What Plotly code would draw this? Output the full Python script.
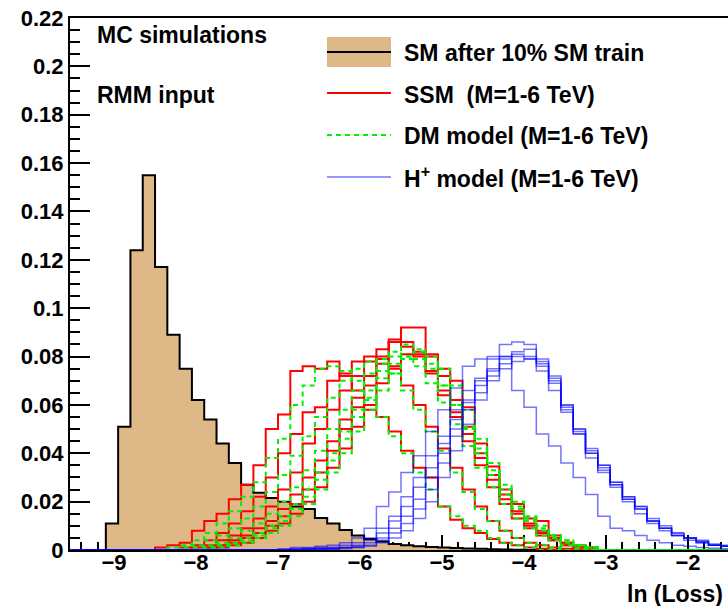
import numpy as np
import plotly.graph_objects as go

# ---------------------------------------------------------------- binning
BIN_WIDTH = 0.15
X_MIN, X_MAX = -9.537, -1.512
Y_MAX = 0.22

# ---------------------------------------------------------------- data
# SM background after 10% SM training (low edge of first bin, bin contents)
sm_first_edge = -9.10
sm_counts = [0.011, 0.051, 0.124, 0.155, 0.117, 0.089, 0.075, 0.062, 0.054,
             0.044, 0.036, 0.027, 0.0237, 0.0215, 0.020, 0.018, 0.017, 0.0132,
             0.011, 0.0083, 0.006, 0.0045, 0.0035, 0.0025, 0.002, 0.0015,
             0.0012, 0.001, 0.0008, 0.0006, 0.0005, 0.0003, 0.0002, 0.0001]

# SSM, M = 1..6 TeV
ssm_first_edges = [-8.50, -8.20, -8.05, -7.90, -7.75, -7.90]
ssm_m1 = [0.001, 0.002, 0.003, 0.008, 0.012, 0.015, 0.021, 0.027, 0.035, 0.050,
          0.056, 0.074, 0.076, 0.075, 0.078, 0.072, 0.066, 0.058, 0.055, 0.049,
          0.041, 0.034, 0.030, 0.018, 0.0125, 0.009, 0.007, 0.0045, 0.003,
          0.002, 0.001, 0.0005]
ssm_m2 = [0.001, 0.002, 0.004, 0.007, 0.011, 0.016, 0.022, 0.030, 0.040, 0.048,
          0.057, 0.059, 0.070, 0.073, 0.078, 0.080, 0.079, 0.075, 0.068, 0.060,
          0.051, 0.042, 0.034, 0.025, 0.018, 0.012, 0.008, 0.005, 0.003, 0.002,
          0.001, 0.0005]
ssm_m3 = [0.001, 0.002, 0.004, 0.006, 0.009, 0.013, 0.018, 0.025, 0.032, 0.044,
          0.050, 0.058, 0.066, 0.072, 0.078, 0.083, 0.086, 0.084, 0.080, 0.073,
          0.064, 0.055, 0.045, 0.035, 0.026, 0.019, 0.013, 0.009, 0.006, 0.004,
          0.002, 0.001, 0.0005]
ssm_m4 = [0.001, 0.002, 0.004, 0.006, 0.009, 0.012, 0.017, 0.023, 0.030, 0.037,
          0.045, 0.054, 0.063, 0.072, 0.080, 0.086, 0.092, 0.092, 0.081, 0.072,
          0.062, 0.051, 0.040, 0.031, 0.023, 0.016, 0.011, 0.008, 0.005, 0.003,
          0.002, 0.001]
ssm_m5 = [0.001, 0.002, 0.003, 0.005, 0.008, 0.011, 0.015, 0.020, 0.026, 0.034,
          0.042, 0.051, 0.060, 0.069, 0.076, 0.081, 0.082, 0.080, 0.075, 0.070,
          0.059, 0.044, 0.0345, 0.025, 0.019, 0.013, 0.012, 0.006, 0.003,
          0.0015, 0.001]
ssm_m6 = [0.001, 0.002, 0.003, 0.005, 0.007, 0.010, 0.014, 0.019, 0.025, 0.032,
          0.041, 0.050, 0.059, 0.068, 0.077, 0.087, 0.086, 0.081, 0.074, 0.066,
          0.057, 0.048, 0.038, 0.029, 0.021, 0.015, 0.010, 0.007, 0.004, 0.002,
          0.001]

# DM model, M = 1..6 TeV
dm_first_edges = [-8.35, -8.20, -8.05, -7.90, -7.75, -7.90]
dm_m1 = [0.001, 0.002, 0.004, 0.007, 0.011, 0.016, 0.022, 0.028, 0.038, 0.046,
         0.060, 0.068, 0.075, 0.076, 0.074, 0.070, 0.062, 0.055, 0.047, 0.040,
         0.032, 0.025, 0.018, 0.014, 0.010, 0.008, 0.005, 0.003, 0.002, 0.001]
dm_m2 = [0.001, 0.002, 0.004, 0.006, 0.009, 0.013, 0.018, 0.024, 0.031, 0.039,
         0.047, 0.055, 0.063, 0.070, 0.075, 0.078, 0.077, 0.073, 0.066, 0.058,
         0.049, 0.041, 0.032, 0.024, 0.017, 0.012, 0.008, 0.005, 0.003, 0.002,
         0.001]
dm_m3 = [0.001, 0.002, 0.003, 0.005, 0.008, 0.011, 0.015, 0.020, 0.026, 0.033,
         0.041, 0.050, 0.058, 0.066, 0.073, 0.079, 0.082, 0.080, 0.076, 0.069,
         0.061, 0.052, 0.043, 0.034, 0.026, 0.019, 0.013, 0.009, 0.006, 0.004,
         0.002, 0.001]
dm_m4 = [0.001, 0.002, 0.003, 0.005, 0.007, 0.010, 0.014, 0.019, 0.025, 0.032,
         0.040, 0.049, 0.058, 0.066, 0.074, 0.080, 0.085, 0.083, 0.077, 0.068,
         0.060, 0.050, 0.040, 0.031, 0.023, 0.017, 0.012, 0.008, 0.005, 0.003,
         0.002, 0.001]
dm_m5 = [0.001, 0.002, 0.003, 0.005, 0.007, 0.010, 0.014, 0.019, 0.025, 0.032,
         0.040, 0.049, 0.058, 0.066, 0.073, 0.079, 0.082, 0.080, 0.075, 0.068,
         0.058, 0.046, 0.036, 0.027, 0.020, 0.014, 0.010, 0.006, 0.004, 0.002,
         0.001]
dm_m6 = [0.001, 0.002, 0.003, 0.004, 0.006, 0.009, 0.012, 0.017, 0.022, 0.029,
         0.037, 0.046, 0.055, 0.063, 0.071, 0.077, 0.080, 0.079, 0.075, 0.068,
         0.060, 0.051, 0.042, 0.033, 0.025, 0.018, 0.013, 0.009, 0.006, 0.004,
         0.002, 0.001]

# H+ model, M = 1..6 TeV
hp_first_edges = [-7.00, -6.85, -6.85, -6.70, -6.70, -6.55]
hp_m1 = [0.0005, 0.001, 0.001, 0.0015, 0.002, 0.003, 0.005, 0.009, 0.018, 0.024,
         0.032, 0.039, 0.049, 0.058, 0.067, 0.076, 0.079, 0.080, 0.080, 0.066,
         0.059, 0.048, 0.043, 0.036, 0.030, 0.023, 0.014, 0.009, 0.008, 0.006,
         0.004, 0.003, 0.002, 0.0015, 0.001, 0.0007, 0.0005, 0.0003]
hp_m2 = [0.0005, 0.0007, 0.001, 0.001, 0.002, 0.003, 0.005, 0.009, 0.014, 0.022,
         0.030, 0.039, 0.047, 0.058, 0.066, 0.071, 0.075, 0.080, 0.081, 0.079,
         0.074, 0.066, 0.057, 0.048, 0.040, 0.032, 0.026, 0.020, 0.015, 0.011,
         0.008, 0.006, 0.004, 0.003, 0.002, 0.0015, 0.001]
hp_m3 = [0.0003, 0.0005, 0.0007, 0.001, 0.001, 0.002, 0.004, 0.007, 0.012, 0.018,
         0.026, 0.034, 0.044, 0.054, 0.062, 0.070, 0.079, 0.085, 0.086, 0.085,
         0.079, 0.072, 0.060, 0.050, 0.038, 0.035, 0.028, 0.021, 0.018, 0.012,
         0.009, 0.006, 0.005, 0.0035, 0.002, 0.0015, 0.001]
hp_m4 = [0.0003, 0.0005, 0.0005, 0.001, 0.0015, 0.003, 0.005, 0.009, 0.014,
         0.021, 0.030, 0.040, 0.050, 0.061, 0.068, 0.074, 0.079, 0.082, 0.083,
         0.078, 0.070, 0.059, 0.049, 0.041, 0.034, 0.027, 0.022, 0.017, 0.012,
         0.009, 0.007, 0.005, 0.004, 0.0025, 0.002, 0.001]
hp_m5 = [0.0002, 0.0003, 0.0005, 0.001, 0.001, 0.002, 0.004, 0.007, 0.011,
         0.017, 0.025, 0.036, 0.047, 0.058, 0.065, 0.072, 0.077, 0.080, 0.080,
         0.077, 0.071, 0.060, 0.050, 0.042, 0.035, 0.028, 0.021, 0.018, 0.013,
         0.009, 0.007, 0.005, 0.0035, 0.002, 0.0015, 0.001]
hp_m6 = [0.0002, 0.0003, 0.0005, 0.001, 0.0015, 0.003, 0.005, 0.008, 0.013,
         0.020, 0.030, 0.041, 0.052, 0.062, 0.070, 0.075, 0.078, 0.079, 0.076,
         0.069, 0.058, 0.048, 0.040, 0.033, 0.027, 0.022, 0.017, 0.012, 0.010,
         0.006, 0.005, 0.003, 0.002, 0.0015, 0.001]

# axis ticks
x_tick_vals = [-9, -8, -7, -6, -5, -4, -3, -2]
x_tick_text = ["\u22129", "\u22128", "\u22127", "\u22126", "\u22125", "\u22124", "\u22123", "\u22122"]
y_tick_vals = [0, 0.02, 0.04, 0.06, 0.08, 0.10, 0.12, 0.14, 0.16, 0.18, 0.20, 0.22]
y_tick_text = ["0", "0.02", "0.04", "0.06", "0.08", "0.1", "0.12", "0.14", "0.16", "0.18", "0.2", "0.22"]

# ---------------------------------------------------------------- styles
FONT = "Liberation Sans"
TAN = "#DEB887"
RED = "#FF0000"
GREEN = "#00F000"
BLUE = "rgba(0,0,255,0.55)"

L_MARGIN, T_MARGIN, B_MARGIN = 70, 18, 56
W, H = 728, 606
PLOT_W = W - L_MARGIN
PLOT_H = H - T_MARGIN - B_MARGIN


def px(xp):
    return (xp - L_MARGIN) / PLOT_W


def py(yp):
    return (H - B_MARGIN - yp) / PLOT_H


def step_xy(first_edge, counts):
    """Outline of a histogram, running along the baseline outside its bins."""
    n = len(counts)
    edges = first_edge + BIN_WIDTH * np.arange(n + 1)
    x = np.concatenate([[X_MIN - 1.0], edges, [X_MAX + 1.0]])
    y = np.concatenate([[0.0], counts, [0.0, 0.0]])
    return x, y


fig = go.Figure()

# SM background, filled
sx, sy = step_xy(sm_first_edge, sm_counts)
fig.add_trace(go.Scatter(x=sx, y=sy, mode="lines", line=dict(color="black", width=2, shape="hv"),
                         fill="tozeroy", fillcolor=TAN, hoverinfo="skip"))

for first, counts in zip(ssm_first_edges, [ssm_m1, ssm_m2, ssm_m3, ssm_m4, ssm_m5, ssm_m6]):
    x, y = step_xy(first, counts)
    fig.add_trace(go.Scatter(x=x, y=y, mode="lines", line=dict(color=RED, width=2, shape="hv"),
                             hoverinfo="skip"))

for first, counts in zip(dm_first_edges, [dm_m1, dm_m2, dm_m3, dm_m4, dm_m5, dm_m6]):
    x, y = step_xy(first, counts)
    fig.add_trace(go.Scatter(x=x, y=y, mode="lines",
                             line=dict(color=GREEN, width=2, shape="hv", dash="5px,4px"),
                             hoverinfo="skip"))

for first, counts in zip(hp_first_edges, [hp_m1, hp_m2, hp_m3, hp_m4, hp_m5, hp_m6]):
    x, y = step_xy(first, counts)
    fig.add_trace(go.Scatter(x=x, y=y, mode="lines", line=dict(color=BLUE, width=1.5, shape="hv"),
                             hoverinfo="skip"))

tick_font = dict(family=FONT, size=22, color="black", weight="bold")

fig.update_xaxes(range=[X_MIN, X_MAX], showgrid=False, zeroline=False,
                 showline=True, linecolor="black", linewidth=2, mirror=True,
                 ticks="inside", ticklen=15, tickwidth=1.5, tickcolor="black",
                 tickvals=x_tick_vals, ticktext=x_tick_text, tickfont=tick_font,
                 ticklabelstandoff=-8,
                 minor=dict(ticks="inside", ticklen=8, tickwidth=1.5, tickcolor="black", dtick=0.2),
                 layer="below traces")
fig.update_yaxes(range=[0, Y_MAX], showgrid=False, zeroline=False,
                 showline=True, linecolor="black", linewidth=2,
                 ticks="inside", ticklen=20, tickwidth=1.5, tickcolor="black",
                 tickvals=y_tick_vals, ticktext=y_tick_text, tickfont=tick_font,
                 minor=dict(ticks="inside", ticklen=10, tickwidth=1.5, tickcolor="black", dtick=0.005),
                 layer="below traces")

text_font = dict(family=FONT, size=23, color="black", weight="bold")

annotations = [
    dict(text="MC simulations", x=px(95), y=py(35), xanchor="left", yanchor="middle"),
    dict(text="RMM input", x=px(95), y=py(95), xanchor="left", yanchor="middle"),
    dict(text="SM after 10% SM train", x=px(402), y=py(53), xanchor="left", yanchor="middle"),
    dict(text="SSM\u00a0 (M=1-6 TeV)", x=px(402), y=py(95), xanchor="left", yanchor="middle"),
    dict(text="DM model (M=1-6 TeV)", x=px(402), y=py(136), xanchor="left", yanchor="middle"),
    dict(text="H<sup>+</sup> model (M=1-6 TeV)", x=px(402), y=py(177), xanchor="left", yanchor="middle"),
    dict(text="ln (Loss)", x=px(725), y=py(594), xanchor="right", yanchor="middle"),
]
for a in annotations:
    fig.add_annotation(xref="paper", yref="paper", showarrow=False, font=text_font, **a)

# legend symbols
shapes = [
    dict(type="rect", x0=px(327), x1=px(391), y0=py(67), y1=py(37),
         fillcolor=TAN, line=dict(width=0)),
    dict(type="line", x0=px(327), x1=px(391), y0=py(52), y1=py(52),
         line=dict(color="black", width=2)),
    dict(type="line", x0=px(327), x1=px(391), y0=py(93), y1=py(93),
         line=dict(color=RED, width=2)),
    dict(type="line", x0=px(327), x1=px(391), y0=py(135), y1=py(135),
         line=dict(color=GREEN, width=2, dash="5px,4px")),
    dict(type="line", x0=px(327), x1=px(391), y0=py(177), y1=py(177),
         line=dict(color=BLUE, width=1.5)),
]
for s in shapes:
    fig.add_shape(xref="paper", yref="paper", **s)

fig.update_layout(width=W, height=H, margin=dict(l=L_MARGIN, r=0, t=T_MARGIN, b=B_MARGIN),
                  plot_bgcolor="white", paper_bgcolor="white", showlegend=False)

fig.write_html("out.html")
